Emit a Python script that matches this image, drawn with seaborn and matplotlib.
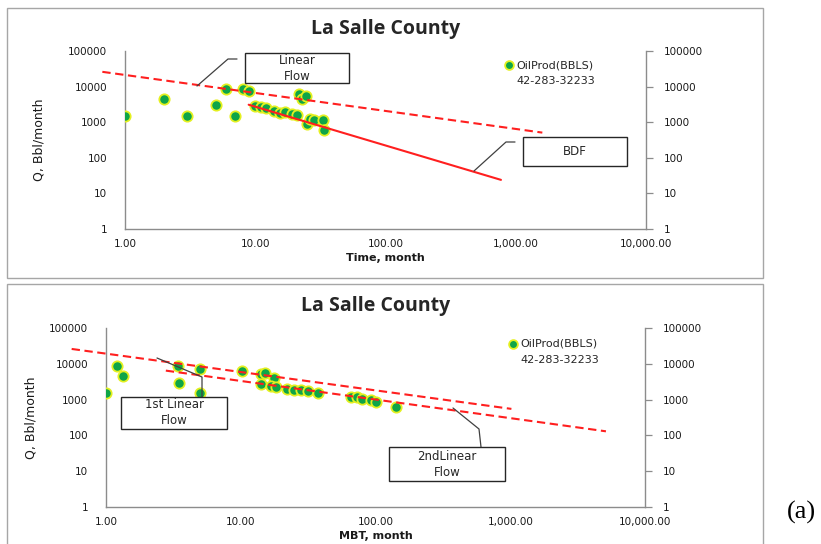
import matplotlib
matplotlib.use("Agg")
import matplotlib.pyplot as plt
from matplotlib.patches import Rectangle
from matplotlib.lines import Line2D
import pandas as pd
import seaborn as sns

# ---- production data ------------------------------------------------------
time_month = [1, 2, 3, 5, 6, 7, 8, 9, 10, 11, 12, 14, 15.5, 17, 19, 21,
              21.5, 23, 24.5, 25, 26.5, 28.5, 33, 33.5]
q_time = [1540, 4350, 1540, 2960, 8700, 1470, 8700, 7300, 2770, 2600, 2500,
          2130, 1790, 1900, 1700, 1620, 6000, 4550, 5300, 900, 1250, 1120,
          1170, 610]

mbt_month = [1.0, 1.21, 1.34, 3.43, 3.49, 5.0, 5.0, 10.3, 14.1, 15.2, 17.7,
             14.1, 16.8, 18.3, 22.2, 25, 28, 31.7, 37.2, 66, 73.5, 80, 93,
             100, 142]
q_mbt = [1540, 8500, 4470, 8500, 2920, 7200, 1500, 6100, 5200, 5560, 4050,
         2750, 2460, 2200, 2000, 1870, 1800, 1780, 1500, 1210, 1170, 1050,
         980, 840, 610]

# flow-regime trend lines (end points)
linear_t = [0.67, 1600]
linear_q = [26000, 510]
bdf_t = [8.9, 770]
bdf_q = [3100, 24]
lin1_mbt = [0.556, 1020]
lin1_q = [26000, 550]
lin2_mbt = [2.78, 5130]
lin2_q = [6450, 130]

x_ticks = [1, 10, 100, 1000, 10000]
x_labels = ["1.00", "10.00", "100.00", "1,000.00", "10,000.00"]
y_ticks = [1, 10, 100, 1000, 10000, 100000]
y_labels = ["1", "10", "100", "1000", "10000", "100000"]

title = "La Salle County"
series_name = "OilProd(BBLS)"
well_id = "42-283-32233"

# ---- figure ---------------------------------------------------------------
sns.set_style("white")
plt.rcParams["font.family"] = ["DejaVu Sans"]

W, H = 821, 544
fig = plt.figure(figsize=(W / 100, H / 100), dpi=100)
fig.patch.set_facecolor("white")


def fx(x):
    return x / W


def fy(y):
    return 1 - y / H


def frame_box(x0, y0, x1, y1, color="#a6a6a6", lw=1.0):
    fig.patches.append(Rectangle((fx(x0), fy(y1)), fx(x1) - fx(x0), fy(y0) - fy(y1),
                                 transform=fig.transFigure, fill=False,
                                 edgecolor=color, linewidth=lw))


def leader(points):
    xs = [fx(p[0]) for p in points]
    ys = [fy(p[1]) for p in points]
    fig.lines.append(Line2D(xs, ys, transform=fig.transFigure,
                            color="#404040", linewidth=0.9))


def label_box(x0, y0, x1, y1, text):
    fig.patches.append(Rectangle((fx(x0), fy(y1)), fx(x1) - fx(x0), fy(y0) - fy(y1),
                                 transform=fig.transFigure, facecolor="white",
                                 edgecolor="#262626", linewidth=1.0, zorder=5))
    fig.text(fx((x0 + x1) / 2), fy((y0 + y1) / 2), text, ha="center", va="center",
             fontsize=8.5, color="#262626", linespacing=1.3, zorder=6)


GREEN = "#0ea548"
YELLOW = "#e4f020"
RED = "#ff1f1f"
AXIS = "#8c8c8c"


def style_axes(ax):
    ax.set_xscale("log")
    ax.set_yscale("log")
    ax.set_xlim(1, 10000)
    ax.set_ylim(1, 100000)
    ax.set_xticks(x_ticks)
    ax.set_xticklabels(x_labels)
    ax.set_yticks(y_ticks)
    ax.set_yticklabels(y_labels)
    ax.minorticks_off()
    ax.tick_params(axis="both", which="major", direction="out", length=5,
                   width=0.9, color=AXIS, labelsize=7.5, labelcolor="#1a1a1a")
    ax.tick_params(axis="y", right=True, labelright=True, pad=8)
    ax.tick_params(axis="x", pad=2)
    for s in ("left", "right", "bottom"):
        ax.spines[s].set_visible(True)
        ax.spines[s].set_color(AXIS)
        ax.spines[s].set_linewidth(1.0)
    ax.spines["top"].set_visible(False)
    ax.set_facecolor("none")
    ax.grid(False)


def draw_panel(ax, xs, qs, lines, xlabel, legend_xy, ylabel_pad):
    df = pd.DataFrame({"x": xs, "q": qs})
    sns.scatterplot(data=df, x="x", y="q", ax=ax, s=55, color=GREEN,
                    edgecolor=YELLOW, linewidth=1.3, zorder=3, label=series_name)
    for lx, lq, ls in lines:
        ldf = pd.DataFrame({"x": lx, "q": lq})
        sns.lineplot(data=ldf, x="x", y="q", ax=ax, color=RED, linewidth=1.5,
                     linestyle=ls, estimator=None, sort=False, zorder=4)
    for ln in ax.lines:
        ln.set_clip_on(False)
    style_axes(ax)
    ax.set_xlabel(xlabel, fontsize=8, fontweight="bold", color="#1a1a1a", labelpad=3)
    ax.set_ylabel("Q, Bbl/month", fontsize=9,
                  family=["Liberation Sans Narrow", "DejaVu Sans"], color="#1a1a1a",
                  labelpad=ylabel_pad)
    handles, labels = ax.get_legend_handles_labels()
    blank = Line2D([], [], linestyle="none", marker=None)
    ax.legend([handles[0], blank], [series_name, well_id], frameon=False,
              loc="upper left", bbox_to_anchor=(fx(legend_xy[0]), fy(legend_xy[1])),
              bbox_transform=fig.transFigure, fontsize=8,
              handlelength=0.6, handletextpad=0.35, labelspacing=0.55,
              borderpad=0, borderaxespad=0, markerscale=0.85)


DASH = (0, (4, 2.2))

# top panel: rate vs time
frame_box(7, 8, 763, 278)
ax1 = fig.add_axes([fx(125), fy(229), fx(646) - fx(125), fy(51) - fy(229)])
draw_panel(ax1, time_month, q_time,
           [(linear_t, linear_q, DASH), (bdf_t, bdf_q, "-")], "Time, month",
           (506, 60), 16)
ax1.set_title(title, fontsize=14, fontweight="bold", family="Open Sans", pad=12)

leader([(197, 86), (228, 59), (237, 59)])
label_box(245, 53, 349, 83, "Linear\nFlow")
leader([(474, 171), (506, 142), (515, 142)])
label_box(523, 137, 627, 166, "BDF")

# bottom panel: rate vs material balance time
frame_box(7, 284, 763, 560)
ax2 = fig.add_axes([fx(106), fy(507), fx(645) - fx(106), fy(328) - fy(507)])
draw_panel(ax2, mbt_month, q_mbt,
           [(lin1_mbt, lin1_q, DASH), (lin2_mbt, lin2_q, DASH)], "MBT, month",
           (510, 339), 8)
ax2.set_title(title, fontsize=14, fontweight="bold", family="Open Sans", pad=12)

leader([(157, 358), (202, 377), (202, 397)])
label_box(121, 397, 227, 429, "1st Linear\nFlow")
leader([(453, 408), (479, 429), (481, 447)])
label_box(389, 447, 505, 481, "2ndLinear\nFlow")

fig.text(fx(787), fy(512), "(a)", fontsize=19, family="Liberation Serif",
         ha="left", va="center", color="black")

fig.savefig("out.png", dpi=100, facecolor="white")
